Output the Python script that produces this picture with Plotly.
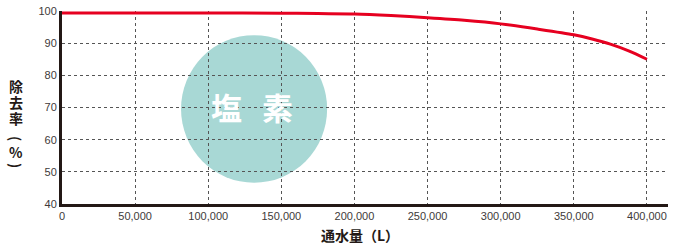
import plotly.graph_objects as go

water_volume = [0, 50000, 100000, 150000, 175000, 200000, 225000, 250000, 275000, 300000,
                325000, 350000, 362500, 375000, 387500, 400000]
removal_rate = [99.4, 99.4, 99.4, 99.3, 99.2, 99.1, 98.6, 97.9, 97.1, 96.0,
                94.4, 92.6, 91.3, 89.7, 87.6, 85.0]
x_ticks = [0, 50000, 100000, 150000, 200000, 250000, 300000, 350000, 400000]
x_tick_labels = ["0", "50,000", "100,000", "150,000", "200,000", "250,000", "300,000", "350,000", "400,000"]
y_ticks = [40, 50, 60, 70, 80, 90, 100]
y_title_chars = [("除", 0), ("去", 0), ("率", 0), ("(", 90), ("%", 0), (")", 90)]
y_title_pos = [86, 102, 118, 138, 152, 165]

W, H = 673, 247
L, R, T, B = 62, 5, 11, 43
pw, ph = W - L - R, H - T - B

def px(x):
    return (x - L) / pw

def py(y):
    return (H - B - y) / ph

fig = go.Figure()
fig.add_trace(go.Scatter(x=water_volume, y=removal_rate, mode="lines",
                         line=dict(color="#e60020", width=3, shape="spline", smoothing=0.8),
                         hoverinfo="skip", showlegend=False))

fig.add_shape(type="circle", xref="x", yref="y", x0=81400, x1=181300, y0=46.6, y1=92.5,
              fillcolor="#a8d8d5", line=dict(width=0), layer="below")
for ch, xx in zip(["塩", "素"], [112800, 147700]):
    fig.add_annotation(x=xx, y=70.2, xref="x", yref="y", text="<b>" + ch + "</b>", showarrow=False,
                       xanchor="center", yanchor="middle",
                       font=dict(family="Noto Sans CJK JP", size=31, color="white"))

for (ch, ang), yy in zip(y_title_chars, y_title_pos):
    fig.add_annotation(xref="paper", yref="paper", x=px(16), y=py(yy), xanchor="center", yanchor="middle",
                       text="<b>" + ch + "</b>", showarrow=False, textangle=ang,
                       font=dict(family="Noto Sans CJK JP", size=14, color="#231815"))
fig.add_annotation(xref="paper", yref="paper", x=px(360), y=py(235), xanchor="center", yanchor="middle",
                   text="<b>通水量（L）</b>", showarrow=False,
                   font=dict(family="Noto Sans CJK JP", size=14, color="#231815"))

grid_style = dict(showgrid=True, gridcolor="#555555", gridwidth=1, griddash="3px,3px")
fig.update_xaxes(range=[0, 414400], tickvals=x_ticks, ticktext=x_tick_labels, zeroline=False,
                 showline=True, linecolor="#231815", linewidth=3, ticks="", automargin=False,
                 tickfont=dict(family="Liberation Sans", size=11, color="#3e3a39"), **grid_style)
fig.update_yaxes(range=[40, 100], tickvals=y_ticks, zeroline=False,
                 showline=True, linecolor="#231815", linewidth=3, ticks="", automargin=False,
                 tickfont=dict(family="Liberation Sans", size=11, color="#3e3a39"), **grid_style)

fig.update_layout(width=W, height=H, margin=dict(l=L, r=R, t=T, b=B),
                  plot_bgcolor="white", paper_bgcolor="white", hovermode=False)
fig.write_html("out.html", config={"displayModeBar": False, "staticPlot": True},
               post_script="document.body.style.margin='0';document.body.style.overflow='hidden';")
